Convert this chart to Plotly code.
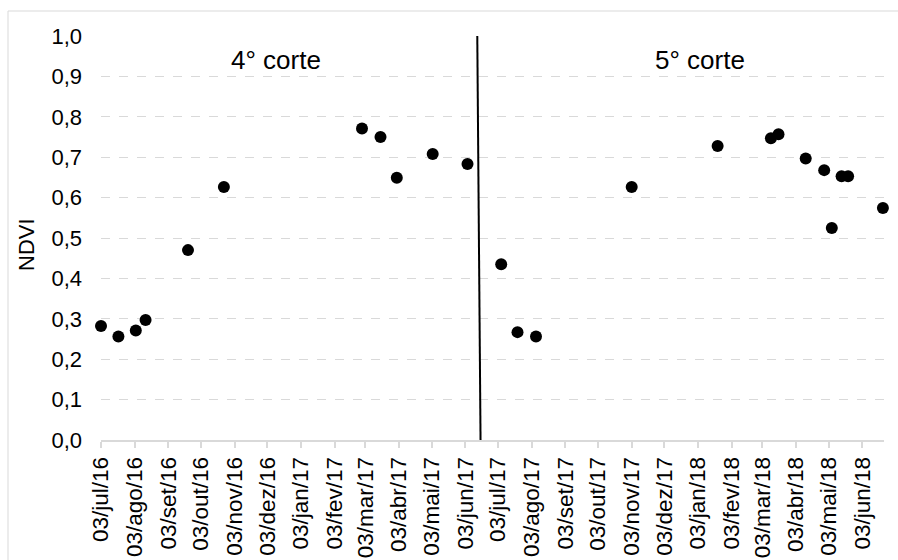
import plotly.graph_objects as go

# NDVI readings, 4th cut
corte4_dates = ["2016-07-03", "2016-07-19", "2016-08-04", "2016-08-13", "2016-09-21",
                "2016-10-24", "2017-02-28", "2017-03-17", "2017-04-01", "2017-05-04",
                "2017-06-05"]
corte4_ndvi = [0.282, 0.256, 0.271, 0.297, 0.470, 0.626, 0.771, 0.750, 0.649, 0.708, 0.683]

# NDVI readings, 5th cut
corte5_dates = ["2017-07-06", "2017-07-21", "2017-08-07", "2017-11-03", "2018-01-21",
                "2018-03-11", "2018-03-18", "2018-04-12", "2018-04-29", "2018-05-06",
                "2018-05-15", "2018-05-21", "2018-06-22"]
corte5_ndvi = [0.435, 0.267, 0.256, 0.626, 0.728, 0.747, 0.757, 0.697, 0.668, 0.525,
               0.653, 0.653, 0.574]

# monthly ticks on the date axis
tick_dates = ["2016-07-03", "2016-08-03", "2016-09-03", "2016-10-03", "2016-11-03",
              "2016-12-03", "2017-01-03", "2017-02-03", "2017-03-03", "2017-04-03",
              "2017-05-03", "2017-06-03", "2017-07-03", "2017-08-03", "2017-09-03",
              "2017-10-03", "2017-11-03", "2017-12-03", "2018-01-03", "2018-02-03",
              "2018-03-03", "2018-04-03", "2018-05-03", "2018-06-03"]
tick_labels = ["03/jul/16", "03/ago/16", "03/set/16", "03/out/16", "03/nov/16",
               "03/dez/16", "03/jan/17", "03/fev/17", "03/mar/17", "03/abr/17",
               "03/mai/17", "03/jun/17", "03/jul/17", "03/ago/17", "03/set/17",
               "03/out/17", "03/nov/17", "03/dez/17", "03/jan/18", "03/fev/18",
               "03/mar/18", "03/abr/18", "03/mai/18", "03/jun/18"]

y_ticks = [0.0, 0.1, 0.2, 0.3, 0.4, 0.5, 0.6, 0.7, 0.8, 0.9, 1.0]
y_labels = ["0,0", "0,1", "0,2", "0,3", "0,4", "0,5", "0,6", "0,7", "0,8", "0,9", "1,0"]

x_range = ["2016-07-03", "2018-06-23"]
divider_top, divider_bottom = "2017-06-14", "2017-06-17"

FONT = "Liberation Sans, Arial, sans-serif"
GRID = "#d9d9d9"

fig = go.Figure()
for name, xs, ys in [("4° corte", corte4_dates, corte4_ndvi),
                     ("5° corte", corte5_dates, corte5_ndvi)]:
    fig.add_trace(go.Scatter(
        x=xs, y=ys, mode="markers", name=name, showlegend=False,
        marker=dict(color="black", size=12, line=dict(width=0)),
        cliponaxis=False,
    ))

# divider between the two cuts
fig.add_shape(type="line", xref="x", yref="y",
              x0=divider_top, y0=1.0, x1=divider_bottom, y1=0.0,
              line=dict(color="black", width=2))

# outer chart frame
fig.add_shape(type="rect", xref="paper", yref="paper",
              x0=-93 / 783, x1=1.03, y0=-0.4, y1=(440 - 11) / 404,
              line=dict(color=GRID, width=1), layer="below")

for label, px in [("4° corte", 276), ("5° corte", 700)]:
    fig.add_annotation(text=label, x=(px - 101) / 783, y=(440 - 60) / 404,
                       xref="paper", yref="paper", showarrow=False,
                       xanchor="center", yanchor="middle",
                       font=dict(family=FONT, size=26, color="black"))
fig.add_annotation(text="NDVI", x=(26 - 101) / 783, y=(440 - 245) / 404,
                   xref="paper", yref="paper", showarrow=False, textangle=-90,
                   xanchor="center", yanchor="middle",
                   font=dict(family=FONT, size=22, color="black"))

fig.update_layout(
    width=898, height=560, autosize=False,
    margin=dict(l=101, r=14, t=36, b=120),
    paper_bgcolor="white", plot_bgcolor="white",
    font=dict(family=FONT, size=22, color="black"),
    xaxis=dict(
        type="date", range=x_range, tickmode="array",
        tickvals=tick_dates, ticktext=tick_labels, tickangle=-90,
        showgrid=False, zeroline=False, automargin=False,
        showline=True, linecolor=GRID, linewidth=2,
        ticks="outside", ticklen=6, tickcolor=GRID, tickwidth=2,
        tickfont=dict(family=FONT, size=22.5, color="black"),
    ),
    yaxis=dict(
        range=[0, 1], tickmode="array", tickvals=y_ticks, ticktext=y_labels,
        showgrid=True, gridcolor=GRID, griddash="dash", gridwidth=1,
        zeroline=False, showline=False, ticks="", automargin=False,
        ticklabelstandoff=18,
        tickfont=dict(family=FONT, size=22, color="black"),
    ),
)

fig.write_html("out.html")
